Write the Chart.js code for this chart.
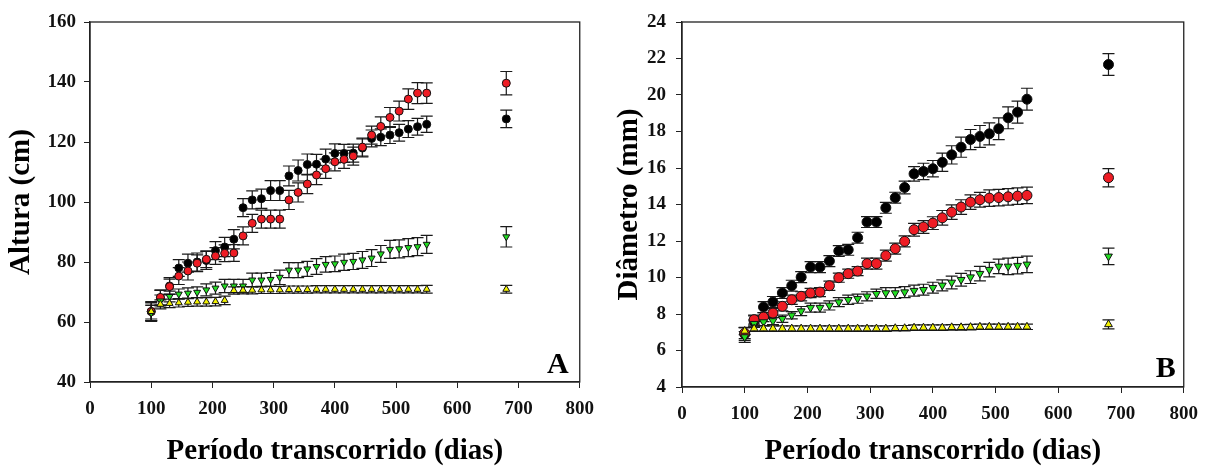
<!DOCTYPE html>
<html lang="pt">
<head>
  <meta charset="UTF-8">
  <title>Altura e diâmetro ao longo do período</title>
  <script src="https://cdn.jsdelivr.net/npm/chart.js@4"></script>
  <style>
    body { margin: 0; background: #fff; }
    .painel { position: absolute; top: 0; width: 604px; height: 470px; }
    #painelA { left: 0; }
    #painelB { left: 604px; }
  </style>
</head>
<body>
  <div class="painel" id="painelA"><canvas id="chartA" width="604" height="470"></canvas></div>
  <div class="painel" id="painelB"><canvas id="chartB" width="604" height="470"></canvas></div>

  <script>
    // dias de avaliação (o último é o ponto isolado)
    const dias = [100, 115, 130, 145, 160, 175, 190, 205, 220, 235, 250, 265, 280, 295, 310, 325,
                  340, 355, 370, 385, 400, 415, 430, 445, 460, 475, 490, 505, 520, 535, 550, 680];

    // ---- A: altura (cm) ----
    const alturaPreto = [63.5, 68, 72, 78, 79.6, 80, 80.5, 83.8, 85, 87.6, 98.1, 100.7, 101.1, 103.8, 103.8, 108.7,
                         110.5, 112.5, 112.6, 114.3, 116.2, 116.2, 116.3, 118, 121.2, 121.6, 122.3, 123.1, 124.3, 125.1, 125.9, 127.7];
    const alturaPretoErro = [3.0, 2.5, 2.8, 2.8, 3.0, 3.0, 3.0, 3.0, 3.2, 3.2, 3.0, 3.0, 3.2, 3.3, 3.3, 3.3,
                             3.5, 3.5, 3.3, 3.3, 3.2, 3.0, 3.0, 3.0, 2.8, 2.8, 2.8, 2.8, 2.8, 2.8, 2.7, 2.9];
    const alturaVermelho = [63.5, 68.2, 71.8, 75.3, 77, 79.6, 80.9, 82, 82.9, 83, 88.7, 92.9, 94.3, 94.3, 94.3, 100.7,
                            103.2, 106, 109, 111.1, 113.4, 114.2, 115.3, 118.3, 122.3, 125.2, 128.2, 130.3, 134.3, 136.3, 136.3, 139.6];
    const alturaVermelhoErro = [3.3, 2.5, 2.5, 2.8, 3.0, 2.8, 2.8, 2.8, 2.8, 2.8, 3.0, 3.0, 3.0, 3.0, 3.0, 3.2,
                                3.2, 3.2, 3.2, 3.2, 3.0, 3.0, 3.0, 3.0, 3.0, 3.2, 3.3, 3.3, 3.4, 3.5, 3.4, 3.9];
    const alturaVerde = [63, 67, 68.5, 69.3, 69.6, 69.9, 70.7, 71.3, 72, 72, 72, 74, 74, 74.2, 74.9, 77.3,
                         77.3, 77.7, 78.5, 79.2, 79.4, 79.9, 80.2, 80.7, 81.3, 82.7, 84.2, 84.4, 84.8, 85.1, 85.9, 88.4];
    const alturaVerdeErro = [2.5, 2.0, 1.8, 1.7, 1.8, 1.8, 2.0, 2.0, 2.2, 2.2, 2.2, 2.3, 2.3, 2.3, 2.4, 2.5,
                             2.5, 2.5, 2.6, 2.6, 2.6, 2.7, 2.7, 2.8, 2.8, 2.8, 3.0, 3.0, 3.0, 3.0, 3.0, 3.4];
    const alturaAmarelo = [63.5, 65.9, 66.2, 66.4, 66.6, 66.7, 66.7, 66.8, 67.2, 70.5, 70.6, 70.6, 70.7, 70.7, 70.7, 70.8,
                           70.8, 70.8, 70.9, 70.9, 70.9, 70.9, 70.9, 70.9, 70.9, 70.9, 70.9, 70.9, 70.9, 70.9, 70.9, 70.9];
    const alturaAmareloErro = [2.5, 1.5, 1.4, 1.4, 1.4, 1.4, 1.4, 1.4, 1.4, 1.2, 1.2, 1.2, 1.2, 1.2, 1.2, 1.2,
                               1.2, 1.2, 1.2, 1.2, 1.2, 1.2, 1.2, 1.2, 1.2, 1.2, 1.2, 1.2, 1.2, 1.2, 1.3, 1.3];

    // ---- B: diâmetro (mm) ----
    const diamPreto = [6.9, 7.6, 8.38, 8.66, 9.15, 9.55, 10.02, 10.57, 10.57, 10.9, 11.45, 11.52, 12.18, 13.04, 13.04, 13.82,
                       14.37, 14.93, 15.68, 15.81, 15.96, 16.31, 16.72, 17.14, 17.56, 17.73, 17.87, 18.15, 18.75, 19.06, 19.77, 21.67];
    const diamPretoErro = [0.35, 0.3, 0.3, 0.3, 0.3, 0.3, 0.3, 0.3, 0.3, 0.3, 0.3, 0.3, 0.3, 0.3, 0.3, 0.3,
                           0.3, 0.35, 0.4, 0.45, 0.45, 0.5, 0.5, 0.55, 0.55, 0.6, 0.6, 0.6, 0.6, 0.6, 0.6, 0.6];
    const diamVermelho = [6.95, 7.69, 7.83, 8.05, 8.42, 8.78, 8.97, 9.15, 9.2, 9.55, 9.99, 10.21, 10.35, 10.76, 10.76, 11.2,
                          11.58, 11.98, 12.62, 12.77, 12.98, 13.27, 13.58, 13.86, 14.13, 14.26, 14.35, 14.38, 14.42, 14.46, 14.5, 15.47];
    const diamVermelhoErro = [0.3, 0.25, 0.25, 0.25, 0.25, 0.25, 0.25, 0.25, 0.25, 0.25, 0.25, 0.25, 0.25, 0.3, 0.3, 0.3,
                              0.3, 0.3, 0.35, 0.35, 0.35, 0.4, 0.4, 0.4, 0.4, 0.4, 0.45, 0.45, 0.45, 0.45, 0.45, 0.5];
    const diamVerde = [6.74, 7.47, 7.56, 7.62, 7.74, 7.93, 8.16, 8.35, 8.35, 8.47, 8.65, 8.78, 8.84, 8.97, 9.11, 9.15,
                       9.15, 9.2, 9.28, 9.33, 9.44, 9.57, 9.73, 9.88, 10.02, 10.21, 10.43, 10.61, 10.61, 10.65, 10.72, 11.16];
    const diamVerdeErro = [0.3, 0.2, 0.2, 0.2, 0.2, 0.2, 0.25, 0.25, 0.25, 0.25, 0.25, 0.25, 0.25, 0.25, 0.25, 0.3,
                           0.3, 0.3, 0.3, 0.3, 0.3, 0.3, 0.35, 0.35, 0.35, 0.4, 0.4, 0.4, 0.45, 0.45, 0.45, 0.45];
    const diamAmarelo = [7.07, 7.2, 7.2, 7.2, 7.2, 7.2, 7.2, 7.2, 7.2, 7.2, 7.2, 7.2, 7.2, 7.2, 7.2, 7.2,
                         7.22, 7.22, 7.25, 7.25, 7.25, 7.25, 7.27, 7.27, 7.28, 7.3, 7.3, 7.3, 7.3, 7.3, 7.3, 7.43];
    const diamAmareloErro = [0.2, 0.15, 0.15, 0.15, 0.15, 0.15, 0.15, 0.15, 0.15, 0.15, 0.15, 0.15, 0.15, 0.15, 0.15, 0.15,
                             0.15, 0.15, 0.15, 0.15, 0.15, 0.15, 0.15, 0.15, 0.15, 0.15, 0.15, 0.15, 0.15, 0.15, 0.15, 0.25];

    const fonteSerif = '"Liberation Serif", "Times New Roman", serif';

    // barras de erro desenhadas por baixo dos marcadores
    const barrasErro = {
      id: 'barrasErro',
      beforeDatasetsDraw(chart, args, opts) {
        const { ctx, scales: { x, y } } = chart;
        ctx.save();
        ctx.strokeStyle = '#1a1a1a';
        ctx.lineWidth = 1.2;
        chart.data.datasets.forEach(ds => {
          if (!ds.erros) return;
          ds.data.forEach((p, i) => {
            const e = ds.erros[i];
            const px = x.getPixelForValue(p.x);
            const yTop = y.getPixelForValue(p.y + e);
            const yBot = y.getPixelForValue(p.y - e);
            const w = opts.cap;
            ctx.beginPath();
            ctx.moveTo(px, yTop); ctx.lineTo(px, yBot);
            ctx.moveTo(px - w, yTop); ctx.lineTo(px + w, yTop);
            ctx.moveTo(px - w, yBot); ctx.lineTo(px + w, yBot);
            ctx.stroke();
          });
        });
        ctx.restore();
      }
    };

    // moldura da área do gráfico e letra do painel
    const moldura = {
      id: 'moldura',
      beforeDatasetsDraw(chart, args, opts) {
        const { ctx, chartArea: a } = chart;
        ctx.save();
        ctx.strokeStyle = '#222';
        ctx.lineWidth = 1.3;
        ctx.strokeRect(a.left, a.top, a.right - a.left, a.bottom - a.top);
        ctx.font = 'bold 30px ' + fonteSerif;
        ctx.fillStyle = '#000';
        ctx.textAlign = 'right';
        ctx.textBaseline = 'alphabetic';
        ctx.fillText(opts.letra, a.right - opts.dx, a.bottom - opts.dy);
        ctx.restore();
      }
    };

    function pontos(valores) {
      return dias.map((d, i) => ({ x: d, y: valores[i] }));
    }

    function serie(valores, erros, cor, estilo, raio, rotacao) {
      return {
        data: pontos(valores),
        erros: erros,
        showLine: false,
        pointStyle: estilo,
        pointRotation: rotacao || 0,
        pointRadius: raio,
        pointHoverRadius: raio,
        pointBackgroundColor: cor,
        pointBorderColor: '#111',
        pointBorderWidth: 1
      };
    }

    function criarGrafico(id, cfg) {
      const ticksFonte = { family: fonteSerif, weight: 'bold', size: 19 };
      const tituloFonte = { family: fonteSerif, weight: 'bold', size: 29 };
      return new Chart(document.getElementById(id), {
        type: 'scatter',
        data: { datasets: cfg.series },
        options: {
          responsive: false,
          animation: false,
          layout: { autoPadding: false, padding: { top: 22, right: cfg.padDir, left: 0, bottom: 0 } },
          plugins: {
            legend: { display: false },
            tooltip: { enabled: false },
            barrasErro: { cap: cfg.cap },
            moldura: { letra: cfg.letra, dx: cfg.letraDx, dy: cfg.letraDy }
          },
          scales: {
            x: {
              type: 'linear', min: 0, max: 800,
              afterFit: s => { s.height = cfg.alturaX; },
              ticks: { stepSize: 100, color: '#111', font: ticksFonte, padding: 10, maxRotation: 0 },
              grid: { display: true, drawOnChartArea: false, drawTicks: true, tickLength: 6, color: '#222' },
              border: { display: true, color: '#222', width: 1.3 },
              title: { display: true, text: 'Período transcorrido (dias)', color: '#000', font: tituloFonte,
                       padding: { top: 0, bottom: 1 } }
            },
            y: {
              type: 'linear', min: cfg.yMin, max: cfg.yMax,
              afterFit: s => { s.width = cfg.larguraY; },
              ticks: { stepSize: cfg.yPasso, color: '#111', font: ticksFonte, padding: cfg.yPad },
              grid: { display: true, drawOnChartArea: false, drawTicks: true, tickLength: 6, color: '#222' },
              border: { display: true, color: '#222', width: 1.3 },
              title: { display: true, text: cfg.tituloY, color: '#000', font: tituloFonte,
                       padding: { top: cfg.tituloYPad, bottom: 0 } }
            }
          }
        },
        plugins: [barrasErro, moldura]
      });
    }

    criarGrafico('chartA', {
      series: [
        serie(alturaAmarelo, alturaAmareloErro, '#f2f200', 'triangle', 4),
        serie(alturaVerde, alturaVerdeErro, '#22dd22', 'triangle', 4, 180),
        serie(alturaVermelho, alturaVermelhoErro, '#ee1c24', 'circle', 4),
        serie(alturaPreto, alturaPretoErro, '#000', 'circle', 4)
      ],
      yMin: 40, yMax: 160, yPasso: 20, yPad: 8,
      tituloY: 'Altura (cm)', tituloYPad: 4,
      larguraY: 90, alturaX: 88, padDir: 15, cap: 6,
      letra: 'A', letraDx: 11, letraDy: 9
    });

    criarGrafico('chartB', {
      series: [
        serie(diamAmarelo, diamAmareloErro, '#f2f200', 'triangle', 4.5),
        serie(diamVerde, diamVerdeErro, '#22dd22', 'triangle', 4.5, 180),
        serie(diamVermelho, diamVermelhoErro, '#ee1c24', 'circle', 5),
        serie(diamPreto, diamPretoErro, '#000', 'circle', 5)
      ],
      yMin: 4, yMax: 24, yPasso: 2, yPad: 10,
      tituloY: 'Diâmetro (mm)', tituloYPad: 8,
      larguraY: 78, alturaX: 83, padDir: 18, cap: 6,
      letra: 'B', letraDx: 8, letraDy: 10
    });
  </script>
</body>
</html>
